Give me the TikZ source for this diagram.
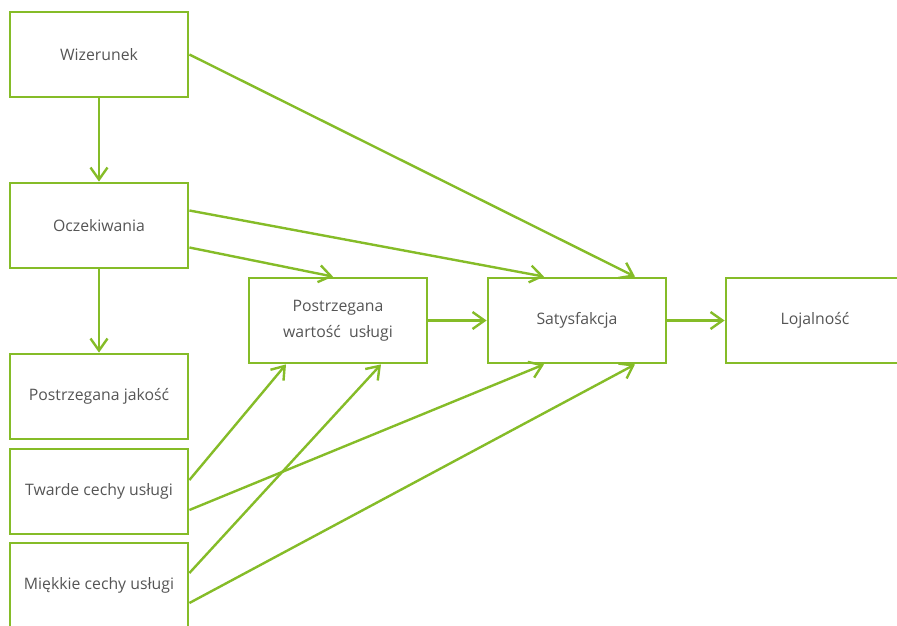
\documentclass[tikz,border=0pt]{standalone}
\usepackage{fontspec}
\setmainfont{Open Sans}
\usetikzlibrary{arrows.meta}
\definecolor{leaf}{RGB}{133,188,40}
\definecolor{ink}{RGB}{85,85,85}

\begin{document}
\begin{tikzpicture}[x=1pt,y=-1pt,->,>={Straight Barb[length=12pt,width=17pt]},
  leaf,line width=2.4pt,
  main node/.style={rectangle,draw=leaf,line width=2.8pt,minimum width=178pt,
    minimum height=85pt,inner sep=0pt,align=center,text=ink,
    font=\fontsize{15.8}{26}\selectfont}]

  \useasboundingbox (0,0) rectangle (897,626);

  \node[main node] (wiz) at (99,54.5) {Wizerunek};
  \node[main node] (ocz) at (99,225.5) {Oczekiwania};
  \node[main node] (jak) at (99,396.5) {Postrzegana jakość};
  \node[main node] (twa) at (99,491.5) {Twarde cechy usługi};
  \node[main node] (mie) at (99,585.5) {Miękkie cechy usługi};
  \node[main node] (pwu) at (338,320.5) {Postrzegana\\wartość~~usługi};
  \node[main node] (sat) at (577,320.5) {Satysfakcja};
  \node[main node] (loj) at (815,320.5) {Lojalność};

  %\path (wiz) edge (ocz) (ocz) edge (jak);
  \draw (wiz) -- (ocz);
  \draw (ocz) -- (jak);
  \draw (wiz.east) -- ([xshift=58pt]sat.north);
  \draw ([yshift=15pt]ocz.east) -- ([xshift=-33pt]sat.north);
  \draw ([yshift=-22pt]ocz.east) -- ([xshift=-5pt]pwu.north);
  \draw (pwu) -- (sat);
  \draw (sat) -- (loj);
  \draw ([yshift=11.5pt]twa.east) -- ([xshift=-52pt]pwu.south);
  \draw ([yshift=-18.5pt]twa.east) -- ([xshift=-33pt]sat.south);
  \draw ([yshift=12.5pt]mie.east) -- ([xshift=43pt]pwu.south);
  \draw ([yshift=-17.5pt]mie.east) -- ([xshift=58pt]sat.south);
\end{tikzpicture}
\end{document}
